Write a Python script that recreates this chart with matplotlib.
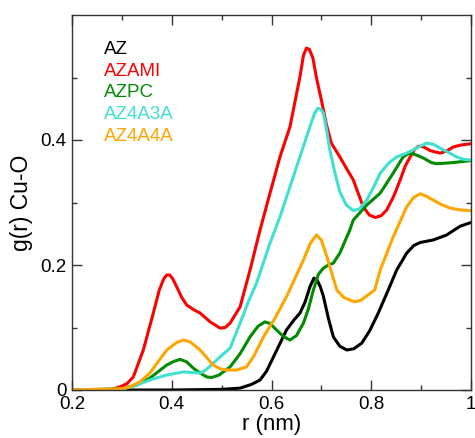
import matplotlib
matplotlib.use("Agg")
import matplotlib.pyplot as plt
from matplotlib.ticker import MultipleLocator, FixedLocator, FixedFormatter

plt.rcParams['font.family'] = ['Liberation Sans', 'DejaVu Sans']

labels = ["AZ", "AZAMI", "AZPC", "AZ4A3A", "AZ4A4A"]
colors = ["#000000", "#ff0000", "#008b00", "#40e0d0", "#ffa500"]

r_az = [0.2, 0.3, 0.4, 0.5, 0.537, 0.56, 0.577, 0.59, 0.604, 0.63, 0.645, 0.657, 0.667,
        0.677, 0.685, 0.692, 0.698, 0.704, 0.714, 0.724, 0.737, 0.751, 0.765, 0.781,
        0.797, 0.814, 0.833, 0.851, 0.871, 0.885, 0.898, 0.924, 0.951, 0.978, 1.0]
g_az = [0.0, 0.0, 0.0, 0.001, 0.003, 0.009, 0.016, 0.03, 0.053, 0.096, 0.112, 0.123, 0.14,
        0.165, 0.179, 0.175, 0.165, 0.15, 0.115, 0.085, 0.07, 0.064, 0.066, 0.075,
        0.095, 0.123, 0.158, 0.192, 0.219, 0.231, 0.236, 0.24, 0.248, 0.262, 0.268]

r_azami = [0.2, 0.28, 0.296, 0.31, 0.323, 0.343, 0.363, 0.375, 0.384, 0.39, 0.396, 0.402,
           0.41, 0.42, 0.43, 0.445, 0.457, 0.477, 0.497, 0.507, 0.517, 0.537, 0.557, 0.577,
           0.597, 0.617, 0.637, 0.657, 0.664, 0.670, 0.676, 0.683, 0.69, 0.7, 0.71, 0.72,
           0.737, 0.75, 0.764, 0.784, 0.796, 0.808, 0.82, 0.831, 0.845, 0.858, 0.868,
           0.878, 0.887, 0.895, 0.905, 0.918, 0.938, 0.95, 0.965, 0.98, 1.0]
g_azami = [0.0, 0.001, 0.005, 0.01, 0.021, 0.064, 0.123, 0.16, 0.178, 0.184, 0.184, 0.178,
           0.165, 0.148, 0.136, 0.128, 0.123, 0.109, 0.099, 0.1, 0.107, 0.133, 0.192, 0.256,
           0.315, 0.373, 0.421, 0.501, 0.535, 0.547, 0.545, 0.531, 0.5, 0.464, 0.425, 0.395,
           0.373, 0.355, 0.336, 0.293, 0.28, 0.276, 0.279, 0.288, 0.31, 0.336, 0.358,
           0.373, 0.385, 0.39, 0.389, 0.383, 0.379, 0.382, 0.389, 0.392, 0.394]

r_azpc = [0.2, 0.3, 0.33, 0.356, 0.39, 0.405, 0.417, 0.43, 0.443, 0.457, 0.47, 0.48, 0.495,
          0.517, 0.537, 0.557, 0.573, 0.587, 0.598, 0.61, 0.625, 0.637, 0.65, 0.664,
          0.674, 0.684, 0.694, 0.704, 0.714, 0.724, 0.737, 0.757, 0.764, 0.791, 0.818,
          0.844, 0.864, 0.874, 0.881, 0.89, 0.905, 0.92, 0.931, 0.95, 0.965, 1.0]
g_azpc = [0.0, 0.002, 0.008, 0.019, 0.04, 0.046, 0.049, 0.045, 0.035, 0.027, 0.021, 0.02,
          0.024, 0.037, 0.058, 0.085, 0.102, 0.109, 0.106, 0.096, 0.085, 0.08, 0.087,
          0.107, 0.13, 0.16, 0.185, 0.195, 0.2, 0.203, 0.219, 0.256, 0.272, 0.296, 0.315,
          0.347, 0.373, 0.378, 0.379, 0.376, 0.371, 0.364, 0.362, 0.363, 0.364, 0.367]

r_az4a3a = [0.2, 0.3, 0.33, 0.356, 0.39, 0.423, 0.44, 0.457, 0.47, 0.483, 0.497, 0.517,
            0.537, 0.553, 0.57, 0.597, 0.617, 0.637, 0.657, 0.677, 0.686, 0.693, 0.699,
            0.704, 0.71, 0.717, 0.727, 0.737, 0.75, 0.764, 0.777, 0.791, 0.805, 0.818,
            0.835, 0.851, 0.868, 0.884, 0.898, 0.911, 0.925, 0.938, 0.955, 0.971, 0.985,
            1.0]
g_az4a3a = [0.0, 0.001, 0.008, 0.016, 0.024, 0.029, 0.028, 0.027, 0.033, 0.043, 0.053,
            0.067, 0.107, 0.14, 0.171, 0.235, 0.277, 0.325, 0.373, 0.421, 0.442, 0.451,
            0.449, 0.443, 0.418, 0.384, 0.348, 0.317, 0.296, 0.287, 0.29, 0.304, 0.325,
            0.347, 0.363, 0.373, 0.378, 0.384, 0.39, 0.395, 0.393, 0.387, 0.38, 0.373, 0.369,
            0.368]

r_az4a4a = [0.2, 0.3, 0.316, 0.336, 0.356, 0.39, 0.41, 0.423, 0.437, 0.457, 0.483, 0.497,
            0.51, 0.53, 0.55, 0.565, 0.584, 0.607, 0.63, 0.664, 0.678, 0.69, 0.7, 0.711,
            0.731, 0.745, 0.757, 0.766, 0.778, 0.79, 0.807, 0.818, 0.844, 0.871, 0.885,
            0.898, 0.91, 0.924, 0.94, 0.958, 0.98, 1.0]
g_az4a4a = [0.0, 0.002, 0.005, 0.013, 0.027, 0.064, 0.076, 0.08, 0.077, 0.064, 0.04, 0.034,
            0.032, 0.032, 0.037, 0.055, 0.085, 0.115, 0.149, 0.208, 0.235, 0.248, 0.24,
            0.213, 0.16, 0.148, 0.144, 0.141, 0.143, 0.15, 0.16, 0.192, 0.245, 0.293, 0.308,
            0.314, 0.31, 0.304, 0.297, 0.291, 0.288, 0.287]

xticks = [0.2, 0.4, 0.6, 0.8, 1.0]
xticklabels = ["0.2", "0.4", "0.6", "0.8", "1"]
yticks = [0.0, 0.2, 0.4]
yticklabels = ["0", "0.2", "0.4"]

series = [(r_az, g_az), (r_azami, g_azami), (r_azpc, g_azpc),
          (r_az4a3a, g_az4a3a), (r_az4a4a, g_az4a4a)]

fig = plt.figure(figsize=(4.75, 4.38), dpi=100)
ax = fig.add_axes([72/475, 1 - 390/438, 399/475, 375/438])

for (r, g), c, lab in zip(series, colors, labels):
    ax.plot(r, g, color=c, lw=2.2, label=lab, solid_joinstyle='round',
            solid_capstyle='round')

ax.set_xlim(0.2, 1.0)
ax.set_ylim(0.0, 0.6)
ax.xaxis.set_major_locator(FixedLocator(xticks))
ax.xaxis.set_major_formatter(FixedFormatter(xticklabels))
ax.xaxis.set_minor_locator(MultipleLocator(0.1))
ax.yaxis.set_major_locator(FixedLocator(yticks))
ax.yaxis.set_major_formatter(FixedFormatter(yticklabels))
ax.yaxis.set_minor_locator(FixedLocator([0.1, 0.3, 0.5]))
ax.tick_params(which='both', direction='in', top=True, right=True, labelsize=13.5,
               color='#333333', width=1.0)
ax.tick_params(which='major', length=7)
ax.tick_params(which='minor', length=3.5)
ax.tick_params(axis='x', pad=4)
ax.tick_params(axis='y', pad=4)
for s in ax.spines.values():
    s.set_color('#333333')
    s.set_linewidth(1.0)

ax.set_xlabel("r (nm)", fontsize=16, labelpad=1)
ax.set_ylabel("g(r) Cu-O", fontsize=16.5, labelpad=5)

for i, (lab, c) in enumerate(zip(labels, colors)):
    ax.text(0.080, 0.896 - i * 0.0579, lab, color=c, fontsize=13.5,
            transform=ax.transAxes, ha='left', va='baseline')

fig.savefig("out.png", dpi=100)
